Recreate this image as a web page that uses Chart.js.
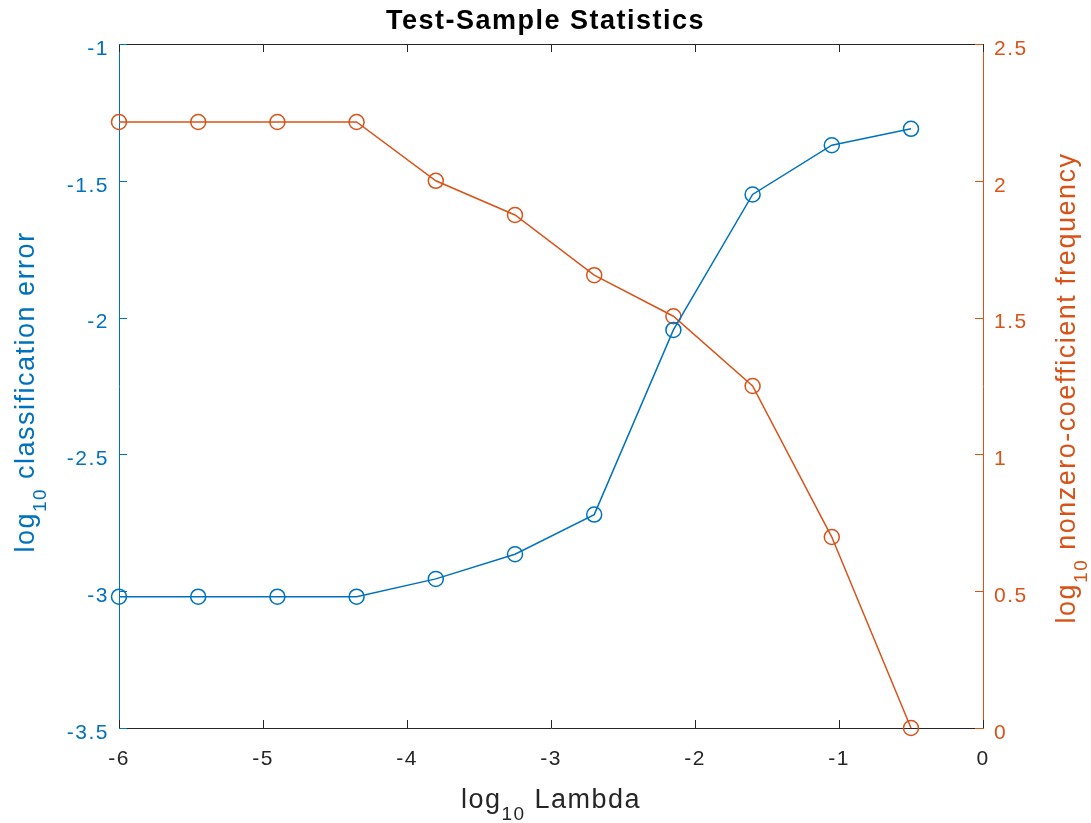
<!DOCTYPE html>
<html>
<head>
<meta charset="utf-8">
<script src="https://cdn.jsdelivr.net/npm/chart.js@4.4.1/dist/chart.umd.min.js"></script>
<style>
  html, body { margin: 0; padding: 0; background: #fff; }
  #wrap { width: 1091px; height: 823px; }
</style>
</head>
<body>
<div id="wrap"><canvas id="chart"></canvas></div>
<script>
// log10 Lambda values (x) and the two series
var logLambda = [-6, -5.45, -4.9, -4.35, -3.8, -3.25, -2.7, -2.15, -1.6, -1.05, -0.5];
var logClassError = [-3.02, -3.02, -3.02, -3.02, -2.955, -2.865, -2.72, -2.045, -1.55, -1.37, -1.31];
var logNonzeroFreq = [2.215, 2.215, 2.215, 2.215, 2.0, 1.875, 1.655, 1.505, 1.25, 0.698, 0];

var xRange = [-6, 0];
var errRange = [-3.5, -1];
var freqRange = [0, 2.5];

var chartTitle = 'Test-Sample Statistics';
var xTitle = ['log', '10', ' Lambda'];
var yTitle = ['log', '10', ' classification error'];
var y2Title = ['log', '10', ' nonzero-coefficient frequency'];

var blue = '#0072BD';
var orange = '#D95319';
var dark = '#262626';
var fontFamily = '"Liberation Sans", Arial, Helvetica, sans-serif';
var spacing = '1.5px';

function toPoints(xs, ys) {
    return xs.map(function (x, i) { return { x: x, y: ys[i] }; });
}

function fmt(v) {
    return String(Math.round(v * 100) / 100);
}

// MATLAB-ish wide text rendering
var textSpacing = {
    id: 'textSpacing',
    beforeUpdate: function (chart) { chart.ctx.letterSpacing = spacing; },
    beforeDraw: function (chart) { chart.ctx.letterSpacing = spacing; }
};

// draws "log" + subscript "10" + rest, centred on (cx, cy)
function drawSubTitle(ctx, parts, cx, cy, rotated, color) {
    var big = '27px ' + fontFamily;
    var small = '19px ' + fontFamily;
    ctx.save();
    ctx.letterSpacing = spacing;
    ctx.fillStyle = color;
    ctx.textAlign = 'left';
    ctx.textBaseline = 'alphabetic';
    ctx.font = big;
    var w0 = ctx.measureText(parts[0]).width;
    var w2 = ctx.measureText(parts[2]).width;
    ctx.font = small;
    var w1 = ctx.measureText(parts[1]).width;
    var start = -(w0 + w1 + w2) / 2;
    ctx.translate(cx, cy);
    if (rotated) ctx.rotate(-Math.PI / 2);
    ctx.font = big;
    ctx.fillText(parts[0], start, 0);
    ctx.font = small;
    ctx.fillText(parts[1], start + w0, 12);
    ctx.font = big;
    ctx.fillText(parts[2], start + w0 + w1, 0);
    ctx.restore();
}

// inward ticks, top box edge and the axis titles
var boxDecor = {
    id: 'boxDecor',
    afterDatasetsDraw: function (chart) {
        var ctx = chart.ctx;
        var area = chart.chartArea;
        var len = 8;
        ctx.save();
        ctx.lineWidth = 1;

        ctx.strokeStyle = dark;
        ctx.beginPath();
        ctx.moveTo(area.left, area.top + 0.5);
        ctx.lineTo(area.right, area.top + 0.5);
        ctx.stroke();

        var xs = chart.scales.x;
        ctx.beginPath();
        xs.ticks.forEach(function (t) {
            var px = Math.round(xs.getPixelForValue(t.value)) + 0.5;
            ctx.moveTo(px, area.bottom);
            ctx.lineTo(px, area.bottom - len);
            ctx.moveTo(px, area.top);
            ctx.lineTo(px, area.top + len);
        });
        ctx.stroke();

        var yl = chart.scales.y;
        ctx.strokeStyle = blue;
        ctx.beginPath();
        yl.ticks.forEach(function (t) {
            var py = Math.round(yl.getPixelForValue(t.value)) + 0.5;
            ctx.moveTo(area.left, py);
            ctx.lineTo(area.left + len, py);
        });
        ctx.stroke();

        var yr = chart.scales.y2;
        ctx.strokeStyle = orange;
        ctx.beginPath();
        yr.ticks.forEach(function (t) {
            var py = Math.round(yr.getPixelForValue(t.value)) + 0.5;
            ctx.moveTo(area.right, py);
            ctx.lineTo(area.right - len, py);
        });
        ctx.stroke();
        ctx.restore();

        var midX = (area.left + area.right) / 2;
        var midY = (area.top + area.bottom) / 2;
        drawSubTitle(ctx, xTitle, midX, 808, false, dark);
        drawSubTitle(ctx, yTitle, 34, midY + 6, true, blue);
        drawSubTitle(ctx, y2Title, 1075, midY + 2, true, orange);
    }
};

var ctx = document.getElementById('chart').getContext('2d');

new Chart(ctx, {
    type: 'line',
    data: {
        datasets: [{
            label: 'log10 classification error',
            data: toPoints(logLambda, logClassError),
            yAxisID: 'y',
            borderColor: blue,
            borderWidth: 1.5,
            pointStyle: 'circle',
            pointRadius: 7.5,
            pointBorderWidth: 1.5,
            pointBorderColor: blue,
            pointBackgroundColor: 'rgba(0,0,0,0)',
            tension: 0,
            clip: false
        }, {
            label: 'log10 nonzero-coefficient frequency',
            data: toPoints(logLambda, logNonzeroFreq),
            yAxisID: 'y2',
            borderColor: orange,
            borderWidth: 1.5,
            pointStyle: 'circle',
            pointRadius: 7.5,
            pointBorderWidth: 1.5,
            pointBorderColor: orange,
            pointBackgroundColor: 'rgba(0,0,0,0)',
            tension: 0,
            clip: false
        }]
    },
    options: {
        responsive: true,
        maintainAspectRatio: false,
        animation: false,
        layout: { padding: 0 },
        plugins: {
            legend: { display: false },
            tooltip: { enabled: false },
            title: {
                display: true,
                text: chartTitle,
                color: '#000',
                font: { family: fontFamily, size: 27, weight: 'bold' },
                padding: { top: 5, bottom: 6.6 }
            }
        },
        scales: {
            x: {
                type: 'linear',
                min: xRange[0],
                max: xRange[1],
                grid: { display: false, drawTicks: false },
                border: { color: dark, width: 1 },
                ticks: {
                    stepSize: 1,
                    color: dark,
                    padding: 19,
                    font: { family: fontFamily, size: 21 },
                    callback: fmt
                },
                afterFit: function (scale) { scale.height = 95; }
            },
            y: {
                type: 'linear',
                position: 'left',
                min: errRange[0],
                max: errRange[1],
                grid: { display: false, drawTicks: false },
                border: { color: blue, width: 1 },
                ticks: {
                    stepSize: 0.5,
                    color: blue,
                    padding: 10,
                    labelOffset: 5,
                    font: { family: fontFamily, size: 21 },
                    callback: fmt
                },
                afterFit: function (scale) { scale.width = 119; }
            },
            y2: {
                type: 'linear',
                position: 'right',
                min: freqRange[0],
                max: freqRange[1],
                grid: { display: false, drawTicks: false },
                border: { color: orange, width: 1 },
                ticks: {
                    stepSize: 0.5,
                    color: orange,
                    padding: 11,
                    labelOffset: 5,
                    font: { family: fontFamily, size: 21 },
                    callback: fmt
                },
                afterFit: function (scale) { scale.width = 108; }
            }
        }
    },
    plugins: [textSpacing, boxDecor]
});
</script>
</body>
</html>
